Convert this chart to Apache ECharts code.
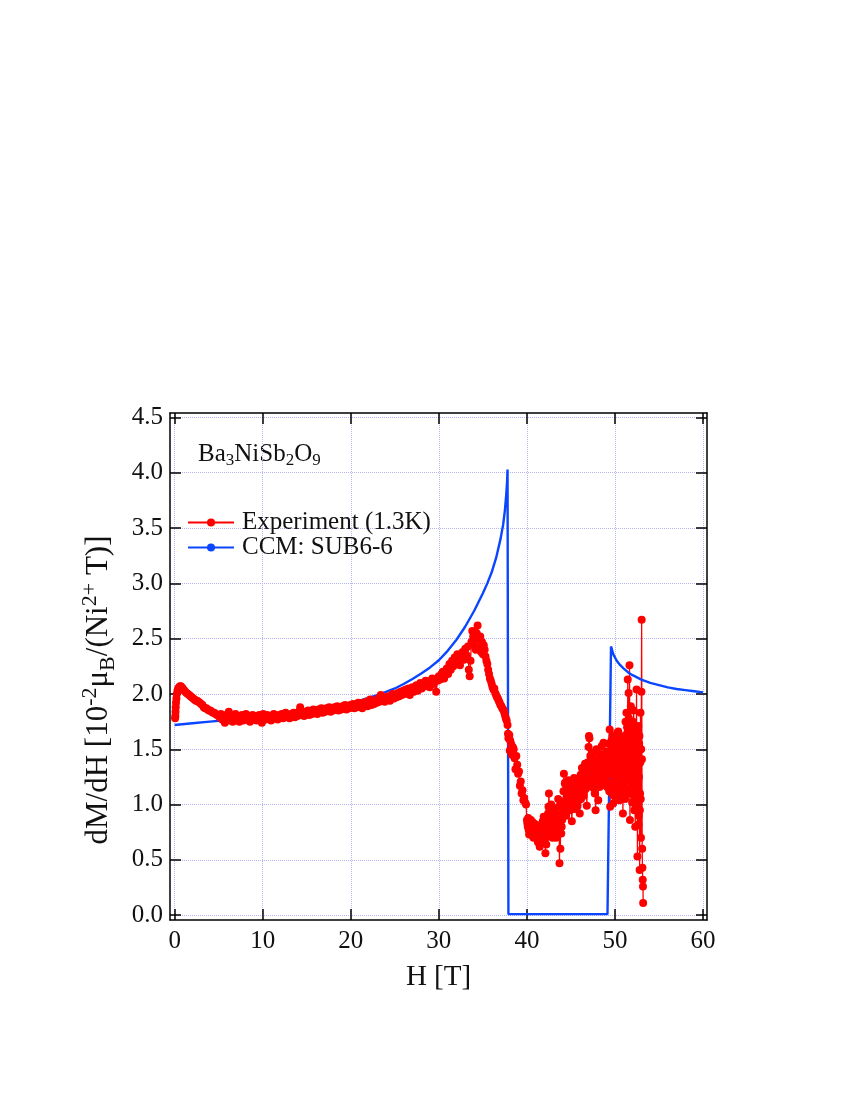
<!DOCTYPE html>
<html>
<head>
<meta charset="utf-8">
<script src="https://cdn.jsdelivr.net/npm/echarts@6/dist/echarts.min.js"></script>
<style>
    html, body { margin: 0; padding: 0; background: #fff; }
    #dmdhChart { width: 850px; height: 1100px; }
</style>
</head>
<body>
<div id="dmdhChart"></div>
<script>
// 刻度
var xTicks = [0, 10, 20, 30, 40, 50, 60];
var yTicks = [0, 0.5, 1.0, 1.5, 2.0, 2.5, 3.0, 3.5, 4.0, 4.5];

var seriesNames = ['Experiment (1.3K)', 'CCM: SUB6-6'];

// 实验数据 [H, dM/dH]
var expData = [
    [0.05,1.78],[0.08,1.80],[0.1,1.84],[0.12,1.88],[0.15,1.92],[0.2,1.96],[0.25,2.0],[0.32,2.03],[0.4,2.05],[0.5,2.06],
    [0.6,2.07],[0.7,2.07],[0.8,2.06],[0.9,2.05],[1.0,2.04],[1.1,2.03],[1.2,2.02],[1.35,2.01],[1.5,2.0],[1.65,1.99],
    [1.8,1.98],[1.95,1.97],[2.1,1.96],[2.25,1.95],[2.4,1.94],[2.55,1.94],[2.7,1.93],[2.85,1.92],[3.0,1.91],[3.15,1.90],
    [3.3,1.88],[3.45,1.87],[3.6,1.87],[3.75,1.86],[3.9,1.85],[4.05,1.85],[4.2,1.84],[4.35,1.83],[4.5,1.83],[4.65,1.82],
    [4.8,1.81],[4.95,1.81],
    [5.1,1.79],[5.25,1.82],[5.4,1.77],[5.55,1.80],[5.7,1.74],[5.85,1.81],[6.0,1.78],[6.15,1.84],[6.3,1.76],[6.45,1.80],
    [6.6,1.75],[6.75,1.79],[6.9,1.82],[7.05,1.77],[7.2,1.80],[7.35,1.75],[7.5,1.79],[7.65,1.81],[7.8,1.76],[7.95,1.79],
    [8.1,1.82],[8.25,1.77],[8.4,1.80],[8.55,1.75],[8.7,1.79],[8.85,1.81],[9.0,1.77],[9.15,1.80],[9.3,1.76],[9.45,1.79],
    [9.6,1.81],[9.75,1.77],[9.9,1.74],[10.05,1.82],
    [10.2,1.79],[10.35,1.77],[10.5,1.81],[10.65,1.78],[10.8,1.80],[10.95,1.76],[11.1,1.80],[11.25,1.82],[11.4,1.78],[11.55,1.80],
    [11.7,1.77],[11.85,1.81],[12.0,1.79],[12.15,1.82],[12.3,1.78],[12.45,1.80],[12.6,1.83],[12.75,1.79],[12.9,1.81],[13.05,1.78],
    [13.2,1.82],[13.35,1.80],[13.5,1.83],[13.65,1.79],[13.8,1.82],[13.95,1.80],[14.1,1.84],[14.25,1.88],[14.4,1.81],[14.55,1.83],
    [14.7,1.80],[14.85,1.84],[15.0,1.82],[15.15,1.85],[15.3,1.81],[15.45,1.84],[15.6,1.82],[15.75,1.86],[15.9,1.83],[16.05,1.85],
    [16.2,1.82],[16.35,1.86],[16.5,1.84],[16.65,1.87],[16.8,1.83],[16.95,1.86],[17.1,1.84],[17.25,1.87],[17.4,1.85],[17.55,1.88],
    [17.7,1.84],[17.85,1.87],[18.0,1.85],[18.15,1.88],[18.3,1.86],[18.45,1.89],[18.6,1.85],[18.75,1.88],[18.9,1.86],[19.05,1.89],
    [19.2,1.87],[19.35,1.90],[19.5,1.86],[19.65,1.89],[19.8,1.87],[19.95,1.90],
    [20.1,1.88],[20.25,1.91],[20.4,1.87],[20.55,1.90],[20.7,1.88],[20.85,1.92],[21.0,1.89],[21.15,1.91],[21.3,1.87],[21.45,1.92],
    [21.6,1.90],[21.75,1.93],[21.9,1.89],[22.05,1.92],[22.2,1.95],[22.35,1.90],[22.5,1.93],[22.65,1.91],[22.8,1.94],[22.95,1.92],
    [23.1,1.96],[23.25,1.93],[23.4,1.99],[23.55,1.94],[23.7,1.96],[23.85,1.93],[24.0,1.97],[24.15,1.95],[24.3,1.98],[24.45,1.94],
    [24.6,1.97],[24.75,2.00],[24.9,1.96],[25.05,1.99],[25.2,1.97],[25.35,2.01],[25.5,1.98],[25.65,2.02],[25.8,1.99],[25.95,2.03],
    [26.1,2.00],[26.25,2.04],[26.4,2.01],[26.55,2.05],[26.7,1.99],[26.85,2.03],[27.0,2.06],[27.15,2.02],[27.3,2.05],[27.45,2.08],
    [27.6,2.03],[27.75,2.07],[27.9,2.10],[28.05,2.05],[28.2,2.09],[28.35,2.07],[28.5,2.12],[28.65,2.08],[28.8,2.11],[28.95,2.06],
    [29.1,2.10],[29.25,2.14],[29.4,2.09],[29.55,2.13],[29.7,2.02],[29.85,2.12],[30.0,2.16],
    [30.15,2.13],[30.3,2.18],[30.45,2.20],[30.6,2.14],[30.75,2.19],[30.9,2.23],[31.05,2.18],[31.2,2.27],[31.35,2.22],[31.5,2.30],
    [31.65,2.25],[31.8,2.33],[31.95,2.28],[32.1,2.36],[32.25,2.30],[32.4,2.26],[32.55,2.34],[32.7,2.38],[32.85,2.31],[33.0,2.41],
    [33.15,2.35],[33.3,2.43],[33.4,2.22],[33.5,2.16],[33.6,2.30],[33.7,2.47],[33.8,2.57],[33.9,2.52],[34.0,2.45],[34.1,2.53],
    [34.2,2.40],[34.3,2.55],[34.4,2.62],[34.5,2.50],[34.6,2.42],[34.7,2.52],[34.8,2.38],[34.9,2.47],[35.0,2.36],[35.1,2.44],
    [35.2,2.40],[35.3,2.34],[35.4,2.30],
    [35.5,2.27],[35.6,2.22],[35.7,2.18],[35.8,2.14],[35.9,2.12],[36.0,2.09],[36.1,2.06],[36.2,2.04],[36.3,2.05],[36.4,2.01],
    [36.5,1.99],[36.6,1.97],[36.7,1.96],[36.8,1.94],[36.9,1.92],[37.0,1.90],[37.1,1.89],[37.2,1.87],[37.3,1.86],[37.4,1.84],
    [37.5,1.81],[37.6,1.78],[37.7,1.76],[37.8,1.72],[37.85,1.64],[37.9,1.60],[38.0,1.63],[38.05,1.49],[38.1,1.58],[38.2,1.55],
    [38.3,1.45],[38.4,1.52],[38.5,1.50],[38.6,1.42],[38.7,1.32],[38.8,1.44],[38.9,1.36],[39.0,1.28],[39.1,1.30],[39.2,1.17],
    [39.3,1.21],[39.4,1.10],[39.5,1.13],[39.6,1.04],[39.7,1.06],[39.8,1.02],[39.9,1.00],
    [40.0,0.86],[40.1,0.80],[40.2,0.77],[40.3,0.84],[40.4,0.79],[40.5,0.82],[40.6,0.72],[40.7,0.80],[40.8,0.83],[40.9,0.76],
    [41.0,0.79],[41.1,0.74],[41.2,0.81],[41.3,0.77],[41.4,0.70],[41.5,0.68],[41.6,0.78],[41.7,0.73],[41.8,0.85],[41.9,0.89],
    [42.0,0.75],[42.1,0.56],[42.2,0.64],[42.3,0.80],[42.4,0.92],[42.5,1.10],[42.6,0.95],[42.65,0.74],[42.8,0.82],[42.9,0.70],
    [43.0,0.92],[43.1,0.85],[43.2,0.80],[43.3,0.70],[43.4,0.77],[43.5,0.90],[43.6,0.98],[43.7,0.47],[43.8,0.60],[43.9,0.74],
    [44.0,0.86],
    [44.1,1.00],[44.2,1.28],[44.3,1.19],[44.4,1.04],[44.5,1.16],[44.6,1.04],[44.7,1.22],[44.8,1.10],[44.9,0.95],[45.0,1.08],
    [45.1,0.85],[45.2,1.01],[45.3,1.17],[45.4,1.10],[45.5,1.16],[45.6,1.22],[45.7,1.04],[45.8,1.12],[45.9,1.04],[46.0,0.92],
    [46.1,1.27],[46.2,1.25],[46.3,1.17],[46.4,1.31],[46.5,1.22],[46.6,1.37],[46.7,1.20],[46.8,0.99],[46.9,1.38],[47.0,1.52],
    [47.05,1.62],[47.1,1.60],[47.2,1.44],[47.3,1.28],[47.4,1.31],[47.5,1.47],[47.6,1.35],[47.7,1.10],[47.8,0.95],[47.9,1.50],
    [48.0,1.40],[48.1,1.04],[48.2,1.35],[48.3,1.41],[48.4,1.25],[48.5,1.53],[48.6,1.45],[48.7,1.56],[48.8,1.30],[48.9,1.41],
    [49.0,1.20],[49.1,1.16],[49.2,1.41],[49.3,1.30],
    [49.4,1.68],[49.45,0.98],[49.5,1.47],[49.55,1.20],[49.6,1.58],[49.65,1.10],[49.7,1.62],[49.75,1.35],[49.8,1.01],[49.85,1.52],
    [49.9,1.25],[49.95,1.60],[50.0,1.15],[50.05,1.45],[50.1,1.56],[50.15,1.05],[50.2,1.50],[50.25,1.65],[50.3,1.30],[50.35,1.55],
    [50.4,1.10],[50.45,1.62],[50.5,1.04],[50.55,1.48],[50.6,1.25],[50.65,1.58],[50.7,1.12],[50.75,1.40],[50.8,1.25],[50.85,1.55],
    [50.9,0.92],[50.95,1.35],[51.0,1.60],[51.05,1.20],[51.1,1.41],[51.15,1.05],[51.2,1.75],[51.25,1.30],[51.3,1.83],[51.35,1.15],
    [51.4,1.65],[51.45,2.13],[51.5,1.40],[51.55,2.01],[51.6,1.10],[51.65,2.26],[51.7,0.86],[51.75,1.55],[51.8,1.89],[51.85,1.25],
    [51.9,1.60],[51.95,1.02],[52.0,1.47],[52.05,1.75],[52.1,1.16],[52.15,1.52],[52.2,0.95],[52.25,1.35],[52.3,0.80],[52.35,1.65],
    [52.4,1.20],[52.45,2.04],[52.5,1.45],[52.55,0.53],[52.6,1.30],[52.65,1.71],[52.7,0.90],[52.75,1.55],[52.8,0.41],[52.85,1.10],
    [52.9,1.83],[52.95,0.70],[53.0,2.02],[53.03,2.67],[53.06,1.41],[53.09,0.60],[53.12,0.43],[53.15,0.32],[53.18,0.26],[53.2,0.11]
];

// 高场噪声区补充读数 [H, dM/dH]
var expDense = [
    [40.05,0.83],[40.15,0.88],[40.25,0.73],[40.35,0.80],[40.45,0.86],[40.55,0.76],[40.65,0.84],[40.75,0.70],[40.85,0.78],[40.95,0.82],
    [41.05,0.72],[41.15,0.80],[41.25,0.66],[41.35,0.74],[41.45,0.62],[41.55,0.76],[41.65,0.82],[41.75,0.70],[41.85,0.77],[41.95,0.66],
    [42.05,0.80],[42.15,0.70],[42.25,0.86],[42.35,0.72],[42.45,0.98],[42.55,0.84],[42.7,0.90],[42.75,1.00],[42.85,0.76],[42.95,0.88],
    [43.05,0.78],[43.15,0.96],[43.25,0.84],[43.35,0.92],[43.45,0.82],[43.55,1.05],[43.65,0.86],[43.75,0.90],[43.85,1.02],[43.95,0.80],
    [44.05,0.92],[44.15,1.12],[44.25,0.98],[44.35,1.20],[44.45,0.90],[44.55,1.10],[44.65,0.97],[44.75,1.05],[44.85,1.18],[44.95,1.02],
    [45.05,1.15],[45.15,0.98],[45.25,1.09],[45.35,1.24],[45.45,0.96],[45.55,1.06],[45.65,1.18],[45.75,0.99],[45.85,1.20],[45.95,1.10],
    [46.05,1.15],[46.15,1.05],[46.25,1.33],[46.35,1.12],[46.45,1.08],[46.55,1.26],[46.65,1.14],[46.75,1.30],[46.85,1.16],[46.95,1.22],
    [47.15,1.35],[47.25,1.18],[47.35,1.42],[47.45,1.22],[47.55,1.15],[47.65,1.40],[47.75,1.28],[47.85,1.19],[47.95,1.33],[48.05,1.22],
    [48.15,1.46],[48.25,1.16],[48.35,1.30],[48.45,1.38],[48.55,1.22],[48.65,1.32],[48.75,1.44],[48.85,1.18],[48.95,1.35],[49.05,1.48],
    [49.15,1.27],[49.25,1.55],[49.35,1.12],
    [49.425,1.35],[49.475,1.55],[49.525,1.12],[49.575,1.40],[49.625,1.28],[49.675,1.50],[49.725,1.18],[49.775,1.62],[49.825,1.30],[49.875,1.08],
    [49.925,1.44],[49.975,1.34],[50.025,1.58],[50.075,1.22],[50.125,1.38],[50.175,1.60],[50.225,1.18],[50.275,1.42],[50.325,1.12],[50.375,1.66],
    [50.425,1.28],[50.475,1.36],[50.525,1.60],[50.575,1.14],[50.625,1.42],[50.675,1.30],[50.725,1.52],[50.775,1.08],[50.825,1.34],[50.875,1.46],
    [50.925,1.22],[50.975,1.15],[51.025,1.50],[51.075,1.62],[51.125,1.25],[51.175,1.48],[51.225,1.10],[51.275,1.56],[51.325,1.38],[51.375,1.70],
    [51.425,1.22],[51.475,1.58],[51.525,1.32],[51.575,1.78],[51.625,1.42],[51.675,1.60],[51.725,1.30],[51.775,1.12],[51.825,1.48],[51.875,1.70],
    [51.925,1.36],[51.975,1.20],[52.025,1.62],[52.075,1.30],[52.125,1.85],[52.175,1.08],[52.225,1.58],[52.275,1.22],[52.325,1.44],[52.375,0.98],
    [52.425,1.55],[52.475,1.10],[52.525,1.68],[52.575,1.02],[52.625,1.40],[52.675,0.82],[52.725,1.25],[52.775,1.62],[52.825,0.95],[52.875,1.38],
    [52.925,1.05],[52.975,1.50]
];

// 计算曲线 CCM [H, dM/dH]
var ccmData = [
    [0,1.72],[2,1.735],[4,1.75],[6,1.765],[8,1.78],[10,1.80],[12,1.82],[14,1.843],[16,1.865],[18,1.89],
    [20,1.918],[21,1.94],[22,1.965],[23,1.99],[24,2.02],[25,2.05],[26,2.09],[27,2.135],[28,2.185],[29,2.24],
    [30,2.305],[31,2.39],[32,2.49],[33,2.61],[34,2.75],[35,2.91],[35.5,3.00],[36,3.10],[36.5,3.23],[37,3.40],
    [37.3,3.53],[37.5,3.66],[37.65,3.80],[37.75,3.92],[37.8,4.03],[37.9,0.01],
    [49.15,0.01],[49.55,2.43],[49.8,2.36],[50.2,2.30],[50.6,2.26],[51,2.23],[51.5,2.195],[52,2.17],[53,2.13],[54,2.10],
    [55,2.08],[56,2.06],[57,2.045],[58,2.035],[59,2.025],[60,2.015]
];

// 按磁场排序后连线
var expAll = expData.concat(expDense).sort(function (a, b) { return a[0] - b[0]; });

var serif = 'Liberation Serif';
var gridColor = '#b4b4f5';

var dmdhChart = echarts.init(document.getElementById('dmdhChart'));
var dmdhOption = {
    backgroundColor: '#fff',
    animation: false,
    grid: {
        left: 170,
        right: 143,
        top: 413,
        bottom: 180,
        containLabel: false
    },
    legend: {
        orient: 'vertical',
        left: 182,
        top: 505,
        itemWidth: 46,
        itemHeight: 10,
        itemGap: 0,
        data: seriesNames,
        textStyle: {
            fontFamily: serif,
            fontSize: 25,
            lineHeight: 25,
            color: '#111',
            padding: [0, 0, 0, 3]
        }
    },
    xAxis: [{
        type: 'value',
        min: -0.53,
        max: 60.45,
        name: 'H [T]',
        nameLocation: 'middle',
        nameGap: 43,
        nameTextStyle: { fontFamily: serif, fontSize: 29, color: '#111' },
        axisLine: { onZero: false, lineStyle: { color: '#000', width: 1.5 } },
        axisTick: { inside: true, length: 11, customValues: xTicks, lineStyle: { color: '#000', width: 1.5 } },
        axisLabel: { customValues: xTicks, margin: 9, fontFamily: serif, fontSize: 25, color: '#111' },
        splitLine: { show: true, lineStyle: { color: gridColor, type: 'dotted', width: 1 } }
    }, {
        type: 'value',
        position: 'top',
        min: -0.53,
        max: 60.45,
        axisLine: { onZero: false, lineStyle: { color: '#000', width: 1.5 } },
        axisTick: { inside: true, length: 11, customValues: xTicks, lineStyle: { color: '#000', width: 1.5 } },
        axisLabel: { show: false },
        splitLine: { show: false }
    }],
    yAxis: [{
        type: 'value',
        min: -0.043,
        max: 4.54,
        axisLine: { onZero: false, lineStyle: { color: '#000', width: 1.5 } },
        axisTick: { inside: true, length: 11, customValues: yTicks, lineStyle: { color: '#000', width: 1.5 } },
        axisLabel: {
            customValues: yTicks,
            margin: 7,
            fontFamily: serif,
            fontSize: 25,
            color: '#111',
            formatter: function (v) { return v.toFixed(1); }
        },
        splitLine: { show: true, lineStyle: { color: gridColor, type: 'dotted', width: 1 } }
    }, {
        type: 'value',
        position: 'right',
        min: -0.043,
        max: 4.54,
        axisLine: { onZero: false, lineStyle: { color: '#000', width: 1.5 } },
        axisTick: { inside: true, length: 11, customValues: yTicks, lineStyle: { color: '#000', width: 1.5 } },
        axisLabel: { show: false },
        splitLine: { show: false }
    }],
    graphic: [{
        type: 'text',
        left: 198,
        top: 442,
        style: {
            text: '{n|Ba}{s|3}{n|NiSb}{s|2}{n|O}{s|9}',
            rich: {
                n: { fontFamily: serif, fontSize: 25, lineHeight: 30, fill: '#111' },
                s: { fontFamily: serif, fontSize: 17, verticalAlign: 'bottom', fill: '#111' }
            }
        }
    }, {
        type: 'text',
        x: 99,
        y: 690,
        rotation: Math.PI / 2,
        style: {
            text: '{n|dM/dH [10}{p|-2}{n|μ}{s|B}{n|/(Ni}{p|2+}{n| T)]}',
            align: 'center',
            verticalAlign: 'middle',
            rich: {
                n: { fontFamily: serif, fontSize: 31, lineHeight: 40, fill: '#111' },
                p: { fontFamily: serif, fontSize: 22, verticalAlign: 'top', fill: '#111' },
                s: { fontFamily: serif, fontSize: 22, verticalAlign: 'bottom', fill: '#111' }
            }
        }
    }],
    series: [{
        name: seriesNames[0],
        type: 'line',
        data: expAll,
        symbol: 'circle',
        symbolSize: 8,
        showAllSymbol: true,
        lineStyle: { color: '#ff0000', width: 1.3 },
        itemStyle: { color: '#ff0000' }
    }, {
        name: seriesNames[1],
        type: 'line',
        data: ccmData,
        symbol: 'none',
        lineStyle: { color: '#0a46ff', width: 2.4 },
        itemStyle: { color: '#0a46ff' }
    }]
};
dmdhChart.setOption(dmdhOption);
</script>
</body>
</html>
